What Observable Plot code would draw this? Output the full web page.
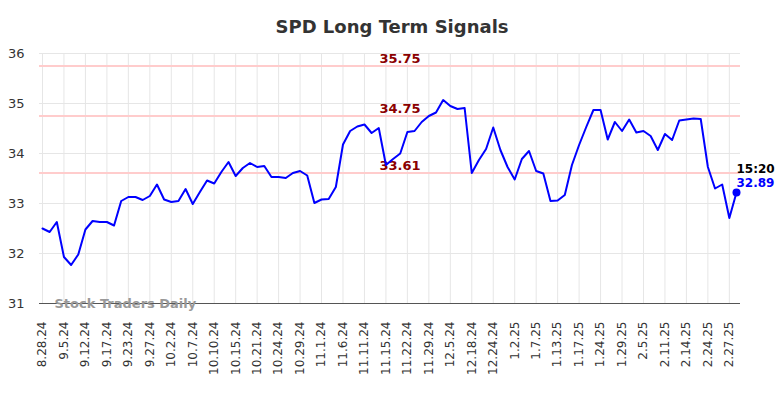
<!DOCTYPE html>
<html>
<head>
<meta charset="utf-8">
<script src="https://cdn.jsdelivr.net/npm/d3@7"></script>
<script src="https://cdn.jsdelivr.net/npm/@observablehq/plot@0.6"></script>
<style>
  html, body { margin: 0; padding: 0; background: #fff; }
  #wrap { width: 784px; height: 398px; overflow: hidden; font-family: "DejaVu Sans", sans-serif; }
  #title { height: 40px; box-sizing: border-box; padding-top: 16px; line-height: 22px; text-align: center;
           font-size: 18px; font-weight: bold; color: #333; }
  svg { display: block; }
</style>
</head>
<body>
<div id="wrap">
  <div id="title">SPD Long Term Signals</div>
  <div id="chart"></div>
</div>
<script>
const tickLabels = ["8.28.24","9.5.24","9.12.24","9.17.24","9.23.24","9.27.24","10.2.24","10.7.24","10.10.24","10.15.24","10.21.24","10.24.24","10.29.24","11.1.24","11.6.24","11.11.24","11.15.24","11.22.24","11.29.24","12.5.24","12.18.24","12.24.24","1.2.25","1.7.25","1.13.25","1.17.25","1.24.25","1.29.25","2.5.25","2.11.25","2.14.25","2.24.25","2.27.25"];

const prices = [
  32.50, 32.43, 32.63, 31.93, 31.77, 31.98, 32.48, 32.65, 32.63, 32.63,
  32.56, 33.05, 33.13, 33.13, 33.07, 33.15, 33.38, 33.08, 33.03, 33.05,
  33.29, 32.99, 33.23, 33.46, 33.40, 33.63, 33.83, 33.55, 33.71, 33.81,
  33.73, 33.75, 33.53, 33.53, 33.51, 33.61, 33.65, 33.56, 33.01, 33.08,
  33.09, 33.33, 34.18, 34.45, 34.54, 34.58, 34.41, 34.51, 33.77, 33.89,
  34.00, 34.43, 34.45, 34.63, 34.75, 34.82, 35.07, 34.95, 34.89, 34.91,
  33.61, 33.87, 34.09, 34.52, 34.07, 33.73, 33.48, 33.89, 34.05, 33.65,
  33.60, 33.05, 33.06, 33.17, 33.77, 34.17, 34.53, 34.87, 34.87, 34.28,
  34.63, 34.45, 34.68, 34.42, 34.45, 34.35, 34.07, 34.39, 34.27, 34.66,
  34.68, 34.70, 34.69, 33.73, 33.30, 33.38, 32.71, 33.22
];

const signalLevels = [35.75, 34.75, 33.61];
const yTicks = [31, 32, 33, 34, 35, 36];
const lastTime = "15:20";
const lastLabel = "32.89";
const watermark = "Stock Traders Daily";

const data = prices.map((v, i) => ({i, v}));
const tickIdx = tickLabels.map((_, k) => k * 3);
const last = data[data.length - 1];

const chart = Plot.plot({
  width: 784,
  height: 358,
  marginTop: 13,
  marginBottom: 95,
  marginLeft: 39,
  marginRight: 44,
  style: {fontFamily: "DejaVu Sans, sans-serif", background: "#fff", overflow: "visible"},
  x: {domain: [0, prices.length - 1], insetLeft: 3, insetRight: 4, axis: null},
  y: {domain: [31, 36], axis: null},
  marks: [
    Plot.gridY(yTicks, {stroke: "#e6e6e6", strokeOpacity: 1, strokeWidth: 1}),
    Plot.gridX(tickIdx, {stroke: "#e6e6e6", strokeOpacity: 1, strokeWidth: 1}),
    Plot.ruleY(signalLevels, {stroke: "#ffcccc", strokeWidth: 2}),
    Plot.text(signalLevels, {y: d => d, frameAnchor: "middle", dx: 10, dy: -3, lineAnchor: "bottom",
      text: d => d.toFixed(2), fill: "#8b0000", fontWeight: "bold", fontSize: 13}),
    Plot.ruleY([31], {stroke: "#555", strokeWidth: 1}),
    Plot.text([watermark], {frameAnchor: "bottom-left", dx: 15, dy: 4, lineAnchor: "bottom",
      text: d => d, fill: "#999", fontWeight: "bold", fontSize: 13, textAnchor: "start"}),
    Plot.line(data, {x: "i", y: "v", stroke: "#0000ff", strokeWidth: 2}),
    Plot.dot([last], {x: "i", y: "v", r: 4, fill: "#0000ff"}),
    Plot.text([last], {x: "i", y: "v", text: () => lastTime, textAnchor: "start", dy: -20, lineAnchor: "bottom",
      fill: "#000", fontWeight: "bold", fontSize: 12}),
    Plot.text([last], {x: "i", y: "v", text: () => lastLabel, textAnchor: "start", dy: -6, lineAnchor: "bottom",
      fill: "#0000ff", fontWeight: "bold", fontSize: 12}),
    Plot.axisY(yTicks, {tickSize: 0, tickPadding: 15, fontSize: 13, fill: "#333", label: null,
      tickFormat: d => String(d)}),
    Plot.axisX(tickIdx, {tickSize: 0, tickPadding: 18, tickRotate: -90, fontSize: 12, fill: "#333", label: null,
      tickFormat: i => tickLabels[i / 3]})
  ]
});
document.getElementById("chart").appendChild(chart);
</script>
</body>
</html>
